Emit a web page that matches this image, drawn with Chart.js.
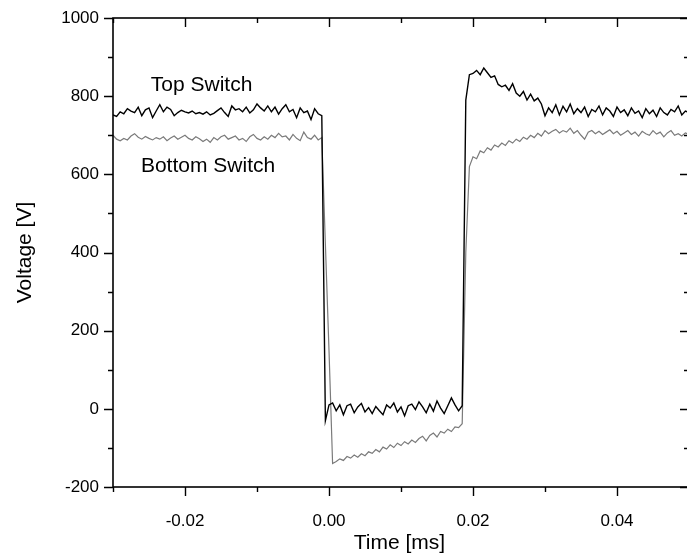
<!DOCTYPE html>
<html>
<head>
<meta charset="utf-8">
<script src="https://cdn.jsdelivr.net/npm/chart.js@4.4.1/dist/chart.umd.min.js"></script>
<style>
  html, body { margin: 0; padding: 0; background: #fff; overflow: hidden; }
  #wrap { width: 692px; height: 559px; }
</style>
</head>
<body>
<div id="wrap"><canvas id="chart" width="692" height="559"></canvas></div>
<script>
// sample times (ms)
const timeMs = [
  -0.0300,-0.0295,-0.0290,-0.0285,-0.0280,-0.0275,-0.0270,-0.0265,-0.0260,-0.0255,
  -0.0250,-0.0245,-0.0240,-0.0235,-0.0230,-0.0225,-0.0220,-0.0215,-0.0210,-0.0205,
  -0.0200,-0.0195,-0.0190,-0.0185,-0.0180,-0.0175,-0.0170,-0.0165,-0.0160,-0.0155,
  -0.0150,-0.0145,-0.0140,-0.0135,-0.0130,-0.0125,-0.0120,-0.0115,-0.0110,-0.0105,
  -0.0100,-0.0095,-0.0090,-0.0085,-0.0080,-0.0075,-0.0070,-0.0065,-0.0060,-0.0055,
  -0.0050,-0.0045,-0.0040,-0.0035,-0.0030,-0.0025,-0.0020,-0.0015,-0.0010,-0.0005,
  0.0000,0.0005,0.0010,0.0015,0.0020,0.0025,0.0030,0.0035,0.0040,0.0045,
  0.0050,0.0055,0.0060,0.0065,0.0070,0.0075,0.0080,0.0085,0.0090,0.0095,
  0.0100,0.0105,0.0110,0.0115,0.0120,0.0125,0.0130,0.0135,0.0140,0.0145,
  0.0150,0.0155,0.0160,0.0165,0.0170,0.0175,0.0180,0.0185,0.0190,0.0195,
  0.0200,0.0205,0.0210,0.0215,0.0220,0.0225,0.0230,0.0235,0.0240,0.0245,
  0.0250,0.0255,0.0260,0.0265,0.0270,0.0275,0.0280,0.0285,0.0290,0.0295,
  0.0300,0.0305,0.0310,0.0315,0.0320,0.0325,0.0330,0.0335,0.0340,0.0345,
  0.0350,0.0355,0.0360,0.0365,0.0370,0.0375,0.0380,0.0385,0.0390,0.0395,
  0.0400,0.0405,0.0410,0.0415,0.0420,0.0425,0.0430,0.0435,0.0440,0.0445,
  0.0450,0.0455,0.0460,0.0465,0.0470,0.0475,0.0480,0.0485,0.0490,0.0495,
  0.0500
];

// voltage of the top switch (V)
const topSwitch = [
  752,748,760,755,768,762,758,772,750,765,
  770,745,762,778,760,772,766,750,758,764,
  760,757,762,755,758,754,760,752,756,763,
  770,758,748,775,765,768,760,772,757,765,
  780,770,762,775,760,772,754,768,778,760,
  766,745,770,758,762,740,768,755,750,-30,
  10,15,-5,10,-15,8,12,-10,5,14,
  -8,3,-12,6,-5,-15,10,2,15,-8,
  5,-18,8,12,-2,18,5,-10,12,-6,
  20,2,-12,8,28,10,-5,8,790,855,
  858,866,855,872,860,848,852,830,824,828,
  815,832,808,800,812,790,805,788,795,780,
  750,770,758,778,752,774,760,780,755,768,
  758,772,748,766,760,775,752,770,762,748,
  772,758,765,750,770,756,762,745,768,755,
  764,748,770,758,752,766,760,775,752,762,
  758
];

// voltage of the bottom switch (V)
const bottomSwitch = [
  700,690,686,692,688,698,704,695,690,697,
  692,688,694,690,696,686,693,698,690,695,
  700,692,688,696,691,684,690,682,694,688,
  696,700,690,694,698,688,692,684,696,702,
  692,688,696,690,700,694,705,696,698,688,
  702,692,686,708,694,690,700,688,694,420,
  150,-140,-135,-128,-132,-122,-126,-118,-124,-115,
  -120,-110,-114,-104,-110,-98,-103,-92,-99,-88,
  -94,-84,-90,-80,-86,-76,-70,-82,-68,-62,
  -72,-58,-62,-52,-58,-46,-48,-38,400,620,
  645,640,660,655,668,662,675,670,680,674,
  686,680,690,684,695,690,700,694,705,698,
  712,704,710,715,706,712,708,718,705,712,
  700,690,708,712,704,710,702,708,714,704,
  710,700,706,712,702,708,698,710,704,700,
  712,703,708,696,706,712,700,704,698,706,
  702
];

const xTickMarks = [-0.03,-0.02,-0.01,0,0.01,0.02,0.03,0.04,0.05];
const xTickLabels = [-0.02,0,0.02,0.04];
const yTickMarks = [-200,-100,0,100,200,300,400,500,600,700,800,900,1000];

// curve labels placed in data units
const curveLabels = [
  { text: 'Top Switch', x: -0.0177, y: 828 },
  { text: 'Bottom Switch', x: -0.0168, y: 620 }
];

const FONT = '"Liberation Sans", Arial, Helvetica, sans-serif';

const framePlugin = {
  id: 'frame',
  afterDraw(chart) {
    const { ctx, chartArea: a, scales: { x, y } } = chart;
    ctx.save();
    ctx.strokeStyle = '#000';
    ctx.lineWidth = 1.6;
    ctx.strokeRect(a.left, a.top, a.right - a.left, a.bottom - a.top);

    ctx.lineWidth = 1.4;
    ctx.beginPath();
    xTickMarks.forEach(v => {
      const px = Math.round(x.getPixelForValue(v)) + 0.5;
      const major = Math.round(v * 100) % 2 === 0;
      const len = major ? 9 : 5;
      ctx.moveTo(px, a.bottom); ctx.lineTo(px, a.bottom + len);
      ctx.moveTo(px, a.top); ctx.lineTo(px, a.top + len);
    });
    yTickMarks.forEach(v => {
      const py = Math.round(y.getPixelForValue(v)) + 0.5;
      const major = v % 200 === 0;
      const len = major ? 9 : 5;
      ctx.moveTo(a.left, py); ctx.lineTo(a.left - len, py);
      ctx.moveTo(a.right, py); ctx.lineTo(a.right - len, py);
    });
    ctx.stroke();

    ctx.fillStyle = '#000';
    ctx.font = '21px ' + FONT;
    ctx.textAlign = 'center';
    ctx.textBaseline = 'middle';
    curveLabels.forEach(l => {
      ctx.fillText(l.text, x.getPixelForValue(l.x), y.getPixelForValue(l.y));
    });

    // axis titles
    ctx.fillText('Time [ms]', (a.left + 686) / 2, 543);
    ctx.translate(25, (a.top + a.bottom) / 2);
    ctx.rotate(-Math.PI / 2);
    ctx.fillText('Voltage [V]', 0, 0);
    ctx.restore();
  }
};

new Chart(document.getElementById('chart'), {
  type: 'line',
  data: {
    datasets: [
      {
        label: 'Top Switch',
        data: timeMs.map((t, i) => ({ x: t, y: topSwitch[i] })),
        borderColor: '#000000',
        borderWidth: 1.4,
        pointRadius: 0,
        tension: 0
      },
      {
        label: 'Bottom Switch',
        data: timeMs.map((t, i) => ({ x: t, y: bottomSwitch[i] })),
        borderColor: '#7a7a7a',
        borderWidth: 1.2,
        pointRadius: 0,
        tension: 0
      }
    ]
  },
  options: {
    responsive: false,
    animation: false,
    devicePixelRatio: 1,
    layout: { padding: { top: 18, right: 3, left: 0, bottom: 0 } },
    plugins: { legend: { display: false }, tooltip: { enabled: false } },
    scales: {
      x: {
        type: 'linear',
        min: -0.03,
        max: 0.05,
        grid: { display: false },
        border: { display: false },
        afterBuildTicks: s => { s.ticks = xTickLabels.map(v => ({ value: v })); },
        afterFit: s => { s.height = 72; },
        ticks: {
          padding: 16,
          color: '#000',
          font: { family: FONT, size: 17 },
          maxRotation: 0,
          callback: v => v.toFixed(2)
        }
      },
      y: {
        min: -200,
        max: 1000,
        grid: { display: false },
        border: { display: false },
        afterFit: s => { s.width = 113; },
        ticks: {
          stepSize: 200,
          padding: 6,
          color: '#000',
          font: { family: FONT, size: 17 },
          callback: v => String(v)
        }
      }
    }
  },
  plugins: [framePlugin]
});
</script>
</body>
</html>
